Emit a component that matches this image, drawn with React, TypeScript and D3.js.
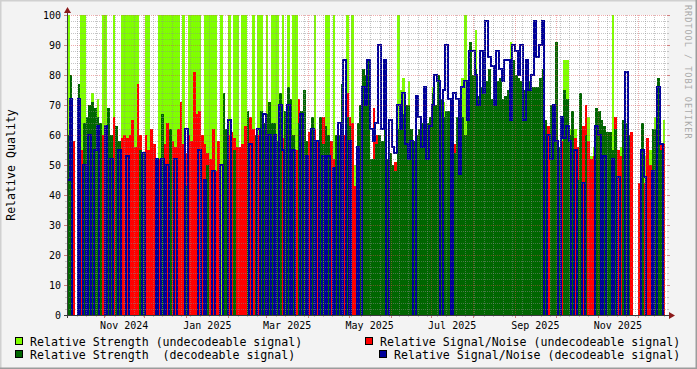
import { useRef, useEffect } from 'react'
import type { FC } from 'react'
import * as d3 from 'd3'

// one value per ~2-day bucket, 0 = nothing recorded
const strengthUndec = [
  100, 0, 0, 0, 0, 100, 100, 0, 0, 74,
  0, 72, 0, 100, 100, 0, 0, 100, 0, 0,
  100, 100, 100, 100, 100, 100, 100, 0, 0, 100,
  100, 0, 0, 0, 100, 100, 100, 100, 100, 100,
  100, 100, 0, 100, 0, 100, 100, 100, 100, 100,
  0, 100, 100, 100, 100, 100, 0, 100, 0, 0,
  100, 0, 100, 100, 0, 100, 100, 0, 0, 100,
  0, 100, 100, 0, 100, 0, 100, 100, 100, 0,
  100, 0, 100, 0, 100, 100, 0, 0, 0, 0,
  0, 0, 100, 0, 0, 0, 100, 100, 0, 100,
  0, 0, 0, 0, 100, 0, 100, 50, 0, 0,
  0, 0, 0, 0, 0, 0, 0, 0, 0, 0,
  0, 0, 0, 100, 75, 79, 0, 78, 0, 0,
  0, 0, 0, 0, 0, 0, 76, 0, 0, 0,
  71, 0, 0, 0, 0, 0, 0, 79, 100, 0,
  0, 0, 95, 0, 0, 0, 0, 0, 0, 0,
  0, 0, 0, 0, 0, 91, 0, 0, 0, 0,
  0, 0, 0, 0, 0, 0, 0, 0, 0, 0,
  0, 0, 0, 0, 63, 85, 85, 62, 59, 62,
  50, 63, 0, 66, 66, 53, 56, 0, 0, 63,
  0, 55, 0, 100, 0, 0, 56, 0, 0, 0,
  0, 0, 0, 0, 0, 53, 0, 55, 0, 66,
  0, 0, 65,
]

const snrUndec = [
  0, 0, 58, 0, 0, 55, 58, 60, 0, 0,
  0, 0, 0, 60, 55, 0, 0, 66, 0, 0,
  59, 60, 59, 60, 65, 56, 77, 60, 0, 60,
  55, 62, 57, 52, 52, 0, 57, 64, 60, 58,
  56, 62, 71, 57, 54, 60, 58, 81, 67, 68,
  60, 57, 54, 52, 62, 48, 58, 0, 0, 0,
  60, 61, 59, 56, 56, 57, 63, 0, 66, 62,
  55, 60, 0, 0, 0, 0, 0, 0, 0, 0,
  59, 0, 0, 0, 0, 55, 72, 0, 0, 0,
  61, 64, 62, 58, 0, 66, 0, 56, 58, 52,
  58, 0, 0, 60, 74, 66, 64, 43, 0, 65,
  0, 0, 0, 0, 69, 60, 0, 0, 0, 0,
  0, 0, 51, 0, 0, 0, 0, 0, 0, 0,
  0, 0, 0, 0, 0, 0, 0, 0, 0, 0,
  0, 0, 0, 0, 57, 0, 0, 0, 0, 0,
  0, 0, 0, 0, 0, 0, 0, 0, 0, 0,
  0, 0, 0, 0, 0, 0, 0, 0, 0, 0,
  0, 0, 0, 0, 0, 0, 0, 0, 0, 63,
  0, 0, 0, 0, 58, 0, 0, 0, 52, 59,
  56, 0, 63, 70, 58, 52, 53, 64, 0, 57,
  55, 53, 53, 0, 66, 55, 53, 50, 0, 51,
  61, 0, 0, 44, 0, 44, 59, 50, 0, 0,
  0, 57, 57,
]

const strengthDec = [
  60, 80, 0, 0, 77, 0, 64, 66, 70, 71,
  69, 66, 64, 0, 0, 69, 60, 0, 63, 58,
  0, 0, 0, 0, 0, 0, 0, 55, 54, 0,
  0, 0, 0, 0, 0, 67, 0, 0, 62, 0,
  0, 0, 0, 0, 43, 0, 0, 0, 0, 0,
  0, 0, 50, 0, 0, 0, 0, 0, 74, 62,
  0, 0, 55, 0, 0, 0, 0, 68, 0, 0,
  60, 0, 68, 64, 67, 71, 64, 64, 58, 74,
  0, 68, 76, 72, 60, 0, 64, 68, 75, 58,
  0, 66, 52, 0, 66, 57, 63, 60, 0, 0,
  60, 60, 77, 0, 66, 63, 0, 0, 64, 70,
  82, 80, 85, 52, 52, 57, 60, 58, 62, 52,
  54, 50, 48, 62, 66, 67, 70, 70, 62, 58,
  60, 62, 64, 62, 64, 66, 74, 70, 80, 72,
  66, 68, 68, 60, 54, 66, 65, 66, 60, 75,
  91, 80, 82, 73, 76, 75, 78, 82, 72, 75,
  78, 79, 72, 73, 75, 80, 85, 80, 79, 78,
  75, 80, 78, 76, 76, 76, 79, 82, 65, 0,
  70, 62, 91, 56, 0, 75, 72, 60, 68, 0,
  45, 74, 0, 60, 0, 0, 0, 69, 68, 65,
  63, 61, 61, 55, 62, 0, 0, 65, 64, 60,
  0, 0, 0, 0, 64, 0, 0, 0, 62, 62,
  79, 55, 0,
]

const snrDec = [
  45, 72, 0, 0, 72, 0, 50, 0, 60, 0,
  55, 63, 0, 0, 63, 0, 52, 0, 0, 55,
  0, 0, 53, 0, 0, 0, 0, 0, 54, 0,
  0, 0, 0, 52, 0, 52, 0, 50, 0, 0,
  52, 0, 0, 0, 62, 0, 0, 0, 0, 55,
  0, 45, 0, 0, 48, 0, 0, 50, 0, 0,
  65, 0, 0, 0, 0, 0, 0, 0, 57, 0,
  0, 62, 0, 67, 0, 60, 0, 60, 0, 70,
  55, 0, 70, 0, 55, 0, 0, 67, 0, 53,
  0, 62, 0, 58, 0, 53, 0, 53, 0, 49,
  0, 64, 0, 85, 0, 58, 0, 0, 56, 0,
  76, 70, 85, 62, 58, 64, 90, 62, 85, 0,
  65, 56, 54, 70, 62, 74, 57, 52, 58, 0,
  73, 66, 56, 76, 52, 63, 70, 80, 78, 0,
  75, 90, 72, 0, 74, 72, 47, 76, 78, 65,
  88, 88, 80, 70, 88, 74, 98, 86, 83, 70,
  88, 82, 78, 85, 85, 65, 90, 88, 80, 90,
  65, 85, 75, 80, 98, 86, 90, 98, 0, 60,
  52, 70, 58, 0, 66, 59, 63, 58, 0, 55,
  0, 0, 44, 0, 0, 0, 0, 63, 60, 0,
  53, 0, 0, 52, 0, 46, 0, 0, 81, 0,
  0, 0, 0, 0, 55, 46, 0, 0, 48, 0,
  76, 57, 0,
]

const yTicks = [0, 10, 20, 30, 40, 50, 60, 70, 80, 90, 100]

const legendLabels = [
  'Relative Strength (undecodeable signal)',
  'Relative Strength  (decodeable signal)',
  'Relative Signal/Noise (undecodeable signal)',
  'Relative Signal/Noise (decodeable signal)',
]

const W = 697
const H = 369
const START = new Date(2024, 9, 4, 17)
const END = new Date(2025, 11, 22, 8)
const STEP_HOURS = 47.6
const MONO = "'DejaVu Sans Mono', monospace"

const COL_LG = '#80ff00'
const COL_RED = '#ff0000'
const COL_DG = '#006600'
const COL_BLUE = '#000099'

type Pt = { d: Date; v: number }

const App: FC = () => {
  const ref = useRef<SVGSVGElement>(null)

  useEffect(() => {
    if (!ref.current) return
    const svg = d3.select(ref.current)
    svg.selectAll('*').remove()

    const left = 67, right = 667, top = 15, bottom = 315
    const x = d3.scaleTime().domain([START, END]).range([left, right])
    const y = d3.scaleLinear().domain([0, 100]).range([bottom, top])

    // frame
    svg.append('rect').attr('width', W).attr('height', H).attr('fill', '#f3f3f3')
    svg.append('path').attr('d', `M0,${H} L0,0 L${W},0`).attr('fill', 'none')
      .attr('stroke', '#d0d0d0').attr('stroke-width', 3)
    svg.append('path').attr('d', `M0,${H} L${W},${H} L${W},0`).attr('fill', 'none')
      .attr('stroke', '#9c9c9c').attr('stroke-width', 3)
    svg.append('rect').attr('x', left).attr('y', top).attr('width', right - left)
      .attr('height', bottom - top).attr('fill', '#ffffff')

    svg.append('clipPath').attr('id', 'plotclip').append('rect')
      .attr('x', left).attr('y', top - 1).attr('width', right - left).attr('height', bottom - top + 1)
    const plot = svg.append('g').attr('clip-path', 'url(#plotclip)')

    const n = strengthUndec.length
    const dates = d3.range(n + 1).map(i => new Date(START.getTime() + i * STEP_HOURS * 3600e3))
    const toPts = (vals: number[]): Pt[] => dates.map((d, i) => ({ d, v: vals[Math.min(i, n - 1)] }))

    const area = d3.area<Pt>()
      .curve(d3.curveStepAfter)
      .x(p => x(p.d))
      .y0(y(0))
      .y1(p => y(p.v))

    const areas: [number[], string][] = [
      [strengthUndec, COL_LG],
      [snrUndec, COL_RED],
      [strengthDec, COL_DG],
    ]
    areas.forEach(([vals, col]) => {
      plot.append('path')
        .attr('d', area(toPts(vals)) || '')
        .attr('fill', col)
        .attr('shape-rendering', 'crispEdges')
    })

    // decodeable S/N is a stepped line that drops to the floor when absent
    const line = d3.line<Pt>()
      .curve(d3.curveStepAfter)
      .x(p => x(p.d))
      .y(p => (p.v === 0 ? y(0) + 3 : y(p.v)))
    plot.append('path')
      .attr('d', line(toPts(snrDec)) || '')
      .attr('fill', 'none')
      .attr('stroke', COL_BLUE)
      .attr('stroke-width', 2)
      .attr('shape-rendering', 'crispEdges')

    // grid on top of the data
    const grid = svg.append('g').attr('shape-rendering', 'crispEdges')
    const minorCol = 'rgba(140,140,140,0.5)'
    const majorCol = 'rgba(220,70,70,0.45)'
    const minorY = d3.range(2, 100, 2).filter(v => v % 10 !== 0)
    minorY.forEach(v => {
      const yy = Math.round(y(v)) + 0.5
      grid.append('line').attr('x1', left).attr('x2', right).attr('y1', yy).attr('y2', yy)
        .attr('stroke', minorCol).attr('stroke-dasharray', '1,1')
      grid.append('line').attr('x1', left - 2).attr('x2', left).attr('y1', yy).attr('y2', yy).attr('stroke', '#c4c4c4')
      grid.append('line').attr('x1', right).attr('x2', right + 2).attr('y1', yy).attr('y2', yy).attr('stroke', '#c4c4c4')
    })
    const months = d3.timeMonth.range(START, END)
    const weeks = d3.timeSaturday.range(START, END)
      .filter(w => !months.some(m => +m === +w))
    weeks.forEach(w => {
      const xx = Math.round(x(w)) + 0.5
      grid.append('line').attr('x1', xx).attr('x2', xx).attr('y1', top).attr('y2', bottom)
        .attr('stroke', minorCol).attr('stroke-dasharray', '1,1')
      grid.append('line').attr('x1', xx).attr('x2', xx).attr('y1', bottom).attr('y2', bottom + 2).attr('stroke', '#c4c4c4')
    })
    yTicks.forEach(v => {
      const yy = Math.round(y(v)) + 0.5
      grid.append('line').attr('x1', left).attr('x2', right).attr('y1', yy).attr('y2', yy)
        .attr('stroke', majorCol).attr('stroke-dasharray', '1,1')
      grid.append('line').attr('x1', left - 3).attr('x2', left).attr('y1', yy).attr('y2', yy).attr('stroke', '#d08080')
      grid.append('line').attr('x1', right).attr('x2', right + 3).attr('y1', yy).attr('y2', yy).attr('stroke', '#d08080')
    })
    months.forEach(m => {
      const xx = Math.round(x(m)) + 0.5
      grid.append('line').attr('x1', xx).attr('x2', xx).attr('y1', top).attr('y2', bottom)
        .attr('stroke', majorCol).attr('stroke-dasharray', '1,1')
      grid.append('line').attr('x1', xx).attr('x2', xx).attr('y1', bottom).attr('y2', bottom + 3).attr('stroke', '#d08080')
    })

    // axes and arrows
    grid.append('line').attr('x1', left - 3).attr('x2', right + 4).attr('y1', bottom + 0.5).attr('y2', bottom + 0.5)
      .attr('stroke', '#3c3c3c')
    grid.append('line').attr('x1', left + 0.5).attr('x2', left + 0.5).attr('y1', bottom + 3).attr('y2', top - 3)
      .attr('stroke', '#3c3c3c')
    svg.append('path').attr('d', `M${left - 3},${top - 2} L${left + 4},${top - 2} L${left + 0.5},${top - 8} Z`)
      .attr('fill', '#8b1a1a')
    svg.append('path').attr('d', `M${right + 2},${bottom - 3} L${right + 2},${bottom + 4} L${right + 8},${bottom + 0.5} Z`)
      .attr('fill', '#8b1a1a')

    // labels
    yTicks.forEach(v => {
      svg.append('text').attr('x', 61).attr('y', y(v) + 3.6)
        .attr('text-anchor', 'end').attr('font-family', MONO).attr('font-size', 10)
        .attr('fill', '#000').text(String(v))
    })
    const labelMonths = d3.timeMonth.every(2)!.range(START, END)
    const fmt = d3.timeFormat('%b %Y')
    labelMonths.forEach(m => {
      const cx = (x(m) + x(d3.timeMonth.offset(m, 1))) / 2
      svg.append('text').attr('x', cx).attr('y', 328.5)
        .attr('text-anchor', 'middle').attr('font-family', MONO).attr('font-size', 10)
        .attr('fill', '#000').text(fmt(m))
    })

    svg.append('text')
      .attr('transform', 'translate(15,165) rotate(-90)')
      .attr('text-anchor', 'middle').attr('font-family', MONO).attr('font-size', 11.6)
      .attr('fill', '#000').text('Relative Quality')

    svg.append('text')
      .attr('transform', 'translate(685,5) rotate(90)')
      .attr('font-family', MONO).attr('font-size', 8.5).attr('letter-spacing', 1)
      .attr('fill', '#aaaaaa').text('RRDTOOL / TOBI OETIKER')

    // legend
    const legendPos = [
      { bx: 15, tx: 30, base: 346 },
      { bx: 15, tx: 30, base: 359 },
      { bx: 365, tx: 380, base: 346 },
      { bx: 379, tx: 394, base: 359 },
    ]
    const legendCols = [COL_LG, COL_DG, COL_RED, COL_BLUE]
    legendLabels.forEach((label, i) => {
      const p = legendPos[i]
      svg.append('rect').attr('x', p.bx + 0.5).attr('y', p.base - 8.5).attr('width', 7).attr('height', 7)
        .attr('fill', legendCols[i]).attr('stroke', '#000').attr('stroke-width', 1)
        .attr('shape-rendering', 'crispEdges')
      svg.append('text').attr('x', p.tx).attr('y', p.base)
        .attr('font-family', MONO).attr('font-size', 11.6).attr('fill', '#000')
        .style('white-space', 'pre').text(label)
    })
  }, [])

  return (
    <svg
      ref={ref}
      width={W}
      height={H}
      style={{ position: 'absolute', left: 0, top: 0, display: 'block' }}
    />
  )
}

export default App
